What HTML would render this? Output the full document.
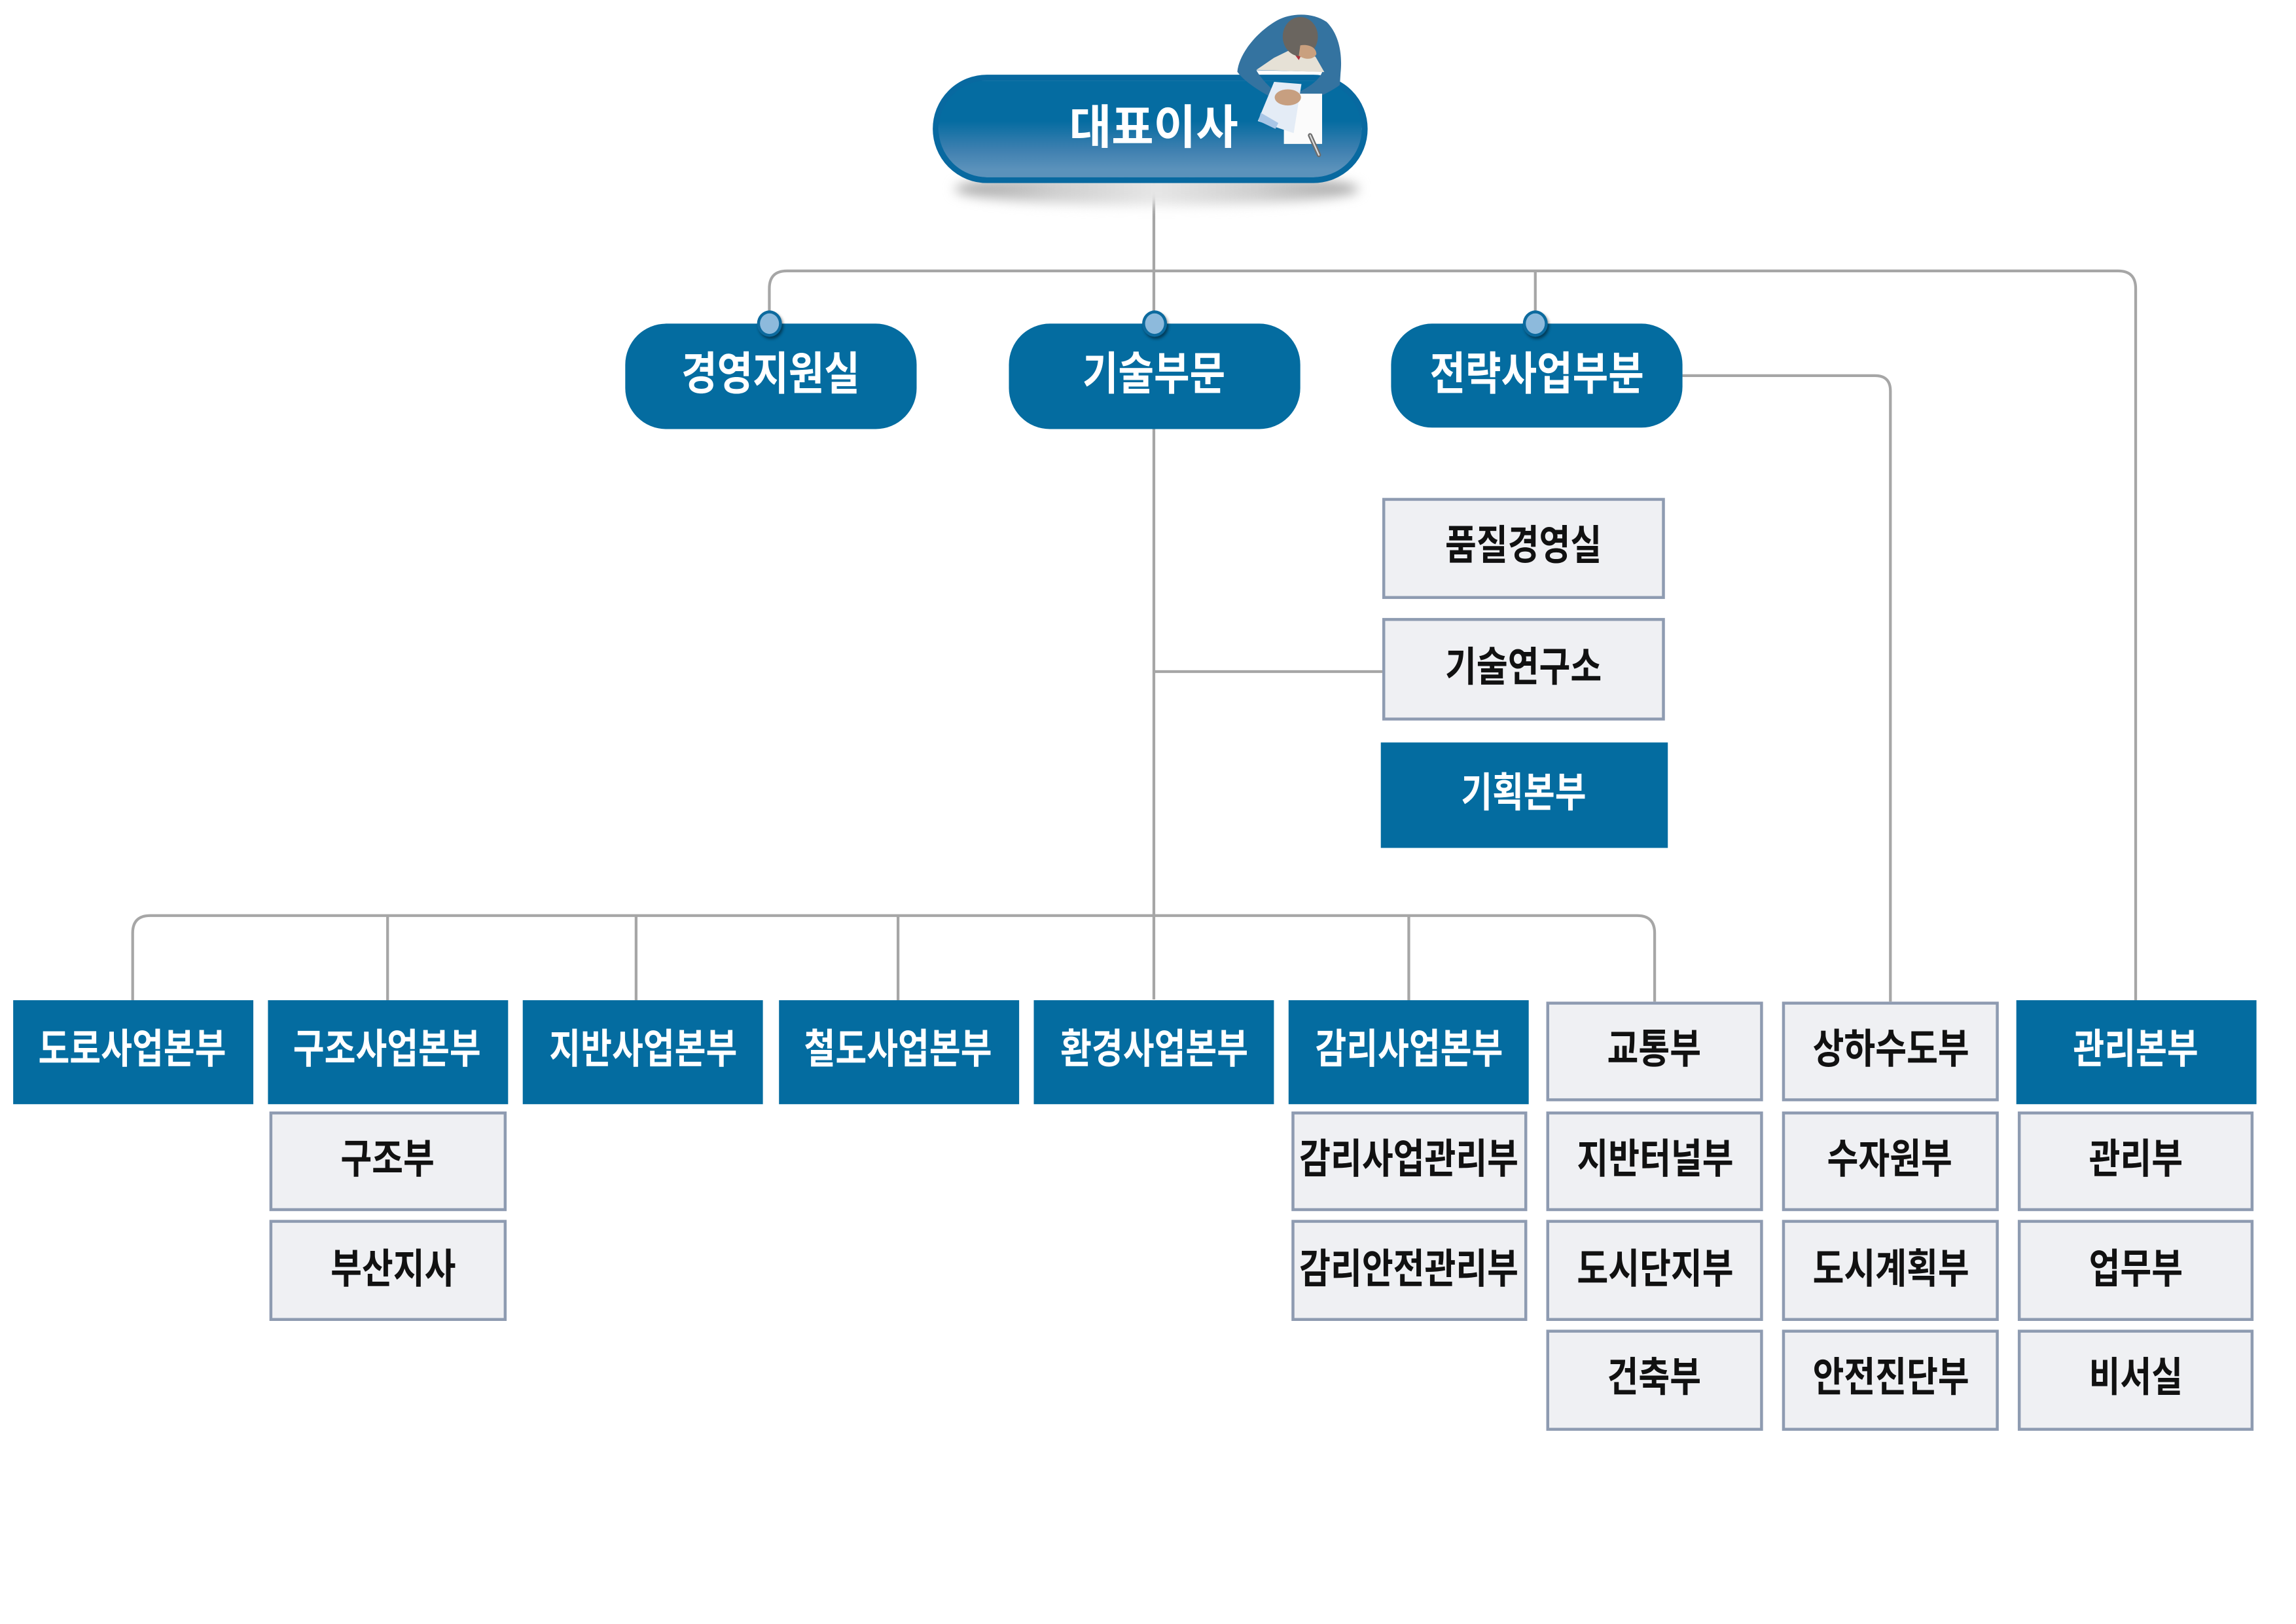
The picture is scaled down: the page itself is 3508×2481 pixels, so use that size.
<!DOCTYPE html>
<html lang="ko">
<head>
<meta charset="utf-8">
<style>
html,body{margin:0;padding:0;background:#fff;}
body{width:3508px;height:2480px;overflow:hidden;position:relative;}
.stage{position:absolute;left:0;top:0;width:1568px;height:1109px;transform:scale(2.237245);transform-origin:0 0;font-family:"Liberation Sans","Noto Sans CJK KR",sans-serif;}
.b,.g,.p{position:absolute;display:flex;align-items:center;justify-content:center;box-sizing:border-box;}
.b{background:#046ca0;color:#fff;}
.g{background:#eff0f3;border:2px solid #8e9bb1;color:#111;}
.p{background:#046ca0;color:#fff;border-radius:28px;}
.t{display:inline-block;white-space:nowrap;line-height:1;font-size:28px;transform:translateY(-1px) scaleX(0.83);}
.b .t{font-weight:700;}
.g .t{font-weight:700;}
.p .t{font-size:31px;font-weight:700;transform:translateY(-1px) scaleX(0.855);}
.dot{position:absolute;width:17px;height:18px;border-radius:50%;background:#8dbadc;border:2px solid #0c6a9e;box-sizing:border-box;box-shadow:1px 1.5px 2px rgba(0,0,0,0.45);}
svg{position:absolute;left:0;top:0;}
</style>
</head>
<body>
<div class="stage">

<!-- connector lines -->
<svg width="1568" height="1109" viewBox="0 0 1568 1109">
  <g fill="none" stroke="#a6a6a6" stroke-width="1.9">
    <path d="M788 124 V 682.5"/>
    <path d="M525.4 220 V 197 Q 525.4 185 537.4 185 H 1446.5 Q 1458.5 185 1458.5 197 V 683"/>
    <path d="M1048.5 185 V 220"/>
    <path d="M1149 256.5 H 1280.5 Q 1291 256.5 1291 267 V 684"/>
    <path d="M90.6 683 V 637.2 Q 90.6 625.2 102.6 625.2 H 1118 Q 1130 625.2 1130 637.2 V 684"/>
    <path d="M264.7 625.2 V 683"/>
    <path d="M434.4 625.2 V 683"/>
    <path d="M613.3 625.2 V 683"/>
    <path d="M962.1 625.2 V 683"/>
    <path d="M788 458.6 H 945"/>
  </g>
</svg>

<!-- shadow under top pill -->
<div style="position:absolute;left:652px;top:118px;width:276px;height:22px;border-radius:50%;background:linear-gradient(to right,#a6a6a6 0%,#cfcfcf 25%,#e6e6e6 50%,#cfcfcf 75%,#a6a6a6 100%);filter:blur(4px);"></div>

<!-- top pill -->
<div style="position:absolute;left:636.9px;top:50.5px;width:297.4px;height:74.6px;border-radius:37px;box-sizing:border-box;border:4px solid #0869a0;background:linear-gradient(to bottom,#056ca1 0%,#056ca1 42%,#3f80b0 72%,#5b92bb 92%,#5b92bb 100%);display:flex;align-items:center;justify-content:center;">
  <span style="display:inline-block;white-space:nowrap;line-height:1;font-size:32px;font-weight:700;color:#fff;transform:translate(2px,-1px) scaleX(0.98);">대표이사</span>
</div>

<!-- person (stylized) -->
<svg width="1568" height="1109" viewBox="0 0 1568 1109">
  <path d="M845 49 C846 37 858 22 872 14 C881 9 896 8 906 15 C914 23 917 36 915.5 50 L915 58 C910 62 898 68 889 70 L885 64 C893 60 901 55 903 49 L858 48 C862 55 868 60 872 64 L869 67 C860 62 850 56 845 49 Z" fill="#3473a0"/>
  <path d="M858 47.7 L870 39.5 L880.6 34.3 L898.4 38.7 L904.4 49.2 Z" fill="#e6e1d6"/>
  <path d="M884 37 L890 35 L887 41 Z" fill="#b0303a"/>
  <ellipse cx="888" cy="25" rx="12" ry="13.4" fill="#6a655f"/>
  <path d="M888 31 C893 30 899 32 899 37 C897 41 891 41 887 38 Z" fill="#c9a07f"/>
  <polygon points="876.8,64 902.9,64 902.9,98.3 876.8,98.3" fill="#fbfbfb"/>
  <polygon points="870.1,55.9 888.8,57.4 883.5,90.9 859,82.7" fill="#e4ecf6"/>
  <polygon points="861,77 873,84 871,88 859.5,82.5" fill="#a9c6e6"/>
  <ellipse cx="879.5" cy="66.5" rx="9" ry="5.5" fill="#c79f80"/>
  <line x1="894.7" y1="92.4" x2="900.7" y2="105.8" stroke="#6d6d6d" stroke-width="3" stroke-linecap="round"/>
  <line x1="894.7" y1="92.4" x2="900.7" y2="105.8" stroke="#dcdcdc" stroke-width="1" stroke-linecap="round"/>
</svg>

<!-- second level pills -->
<div class="p" style="left:427.3px;top:220.8px;width:198.8px;height:72.4px;"><span class="t">경영지원실</span></div>
<div class="p" style="left:688.7px;top:220.5px;width:199px;height:72.4px;"><span class="t">기술부문</span></div>
<div class="p" style="left:949.6px;top:220.6px;width:199.5px;height:71.8px;"><span class="t">전략사업부분</span></div>

<div class="dot" style="left:517px;top:211.7px;"></div>
<div class="dot" style="left:779.5px;top:211.7px;"></div>
<div class="dot" style="left:1040px;top:211.7px;"></div>

<!-- middle staff boxes -->
<div class="g" style="left:944.2px;top:339.5px;width:192.8px;height:69.3px;"><span class="t">품질경영실</span></div>
<div class="g" style="left:944.2px;top:422.2px;width:192.8px;height:69.8px;"><span class="t">기술연구소</span></div>
<div class="b" style="left:942.5px;top:506.8px;width:196.7px;height:72.1px;"><span class="t">기획본부</span></div>

<!-- bottom row -->
<div class="b" style="left:8.5px;top:682.5px;width:164.2px;height:71.3px;"><span class="t">도로사업본부</span></div>
<div class="b" style="left:182.6px;top:682.5px;width:164.2px;height:71.3px;"><span class="t">구조사업본부</span></div>
<div class="b" style="left:357px;top:682.5px;width:164px;height:71.3px;"><span class="t">지반사업본부</span></div>
<div class="b" style="left:531.5px;top:682.5px;width:164.2px;height:71.3px;"><span class="t">철도사업본부</span></div>
<div class="b" style="left:705.9px;top:682.5px;width:163.9px;height:71.3px;"><span class="t">환경사업본부</span></div>
<div class="b" style="left:880px;top:682.5px;width:164.2px;height:71.3px;"><span class="t">감리사업본부</span></div>
<div class="g" style="left:1055.6px;top:683.8px;width:148.8px;height:68.4px;"><span class="t">교통부</span></div>
<div class="g" style="left:1217.2px;top:683.8px;width:147.6px;height:68.4px;"><span class="t">상하수도부</span></div>
<div class="b" style="left:1376.9px;top:682.5px;width:163.9px;height:71.3px;"><span class="t">관리본부</span></div>

<!-- sub boxes: 구조 -->
<div class="g" style="left:184px;top:758.5px;width:161.5px;height:68.8px;"><span class="t">구조부</span></div>
<div class="g" style="left:184px;top:833.3px;width:161.5px;height:68.7px;"><span class="t" style="margin-left:7px;">부산지사</span></div>

<!-- 감리 -->
<div class="g" style="left:881.5px;top:758.5px;width:161.3px;height:68.8px;"><span class="t">감리사업관리부</span></div>
<div class="g" style="left:881.5px;top:833.3px;width:161.3px;height:68.7px;"><span class="t">감리안전관리부</span></div>

<!-- 교통 -->
<div class="g" style="left:1055.6px;top:758.5px;width:148.8px;height:68.8px;"><span class="t">지반터널부</span></div>
<div class="g" style="left:1055.6px;top:833.3px;width:148.8px;height:68.7px;"><span class="t">도시단지부</span></div>
<div class="g" style="left:1055.6px;top:908px;width:148.8px;height:68.8px;"><span class="t">건축부</span></div>

<!-- 상하수도 -->
<div class="g" style="left:1217.2px;top:758.5px;width:147.6px;height:68.8px;"><span class="t">수자원부</span></div>
<div class="g" style="left:1217.2px;top:833.3px;width:147.6px;height:68.7px;"><span class="t">도시계획부</span></div>
<div class="g" style="left:1217.2px;top:908px;width:147.6px;height:68.8px;"><span class="t">안전진단부</span></div>

<!-- 관리 -->
<div class="g" style="left:1377.6px;top:758.5px;width:161.4px;height:68.8px;"><span class="t">관리부</span></div>
<div class="g" style="left:1377.6px;top:833.3px;width:161.4px;height:68.7px;"><span class="t">업무부</span></div>
<div class="g" style="left:1377.6px;top:908px;width:161.4px;height:68.8px;"><span class="t">비서실</span></div>

</div>
</body>
</html>
